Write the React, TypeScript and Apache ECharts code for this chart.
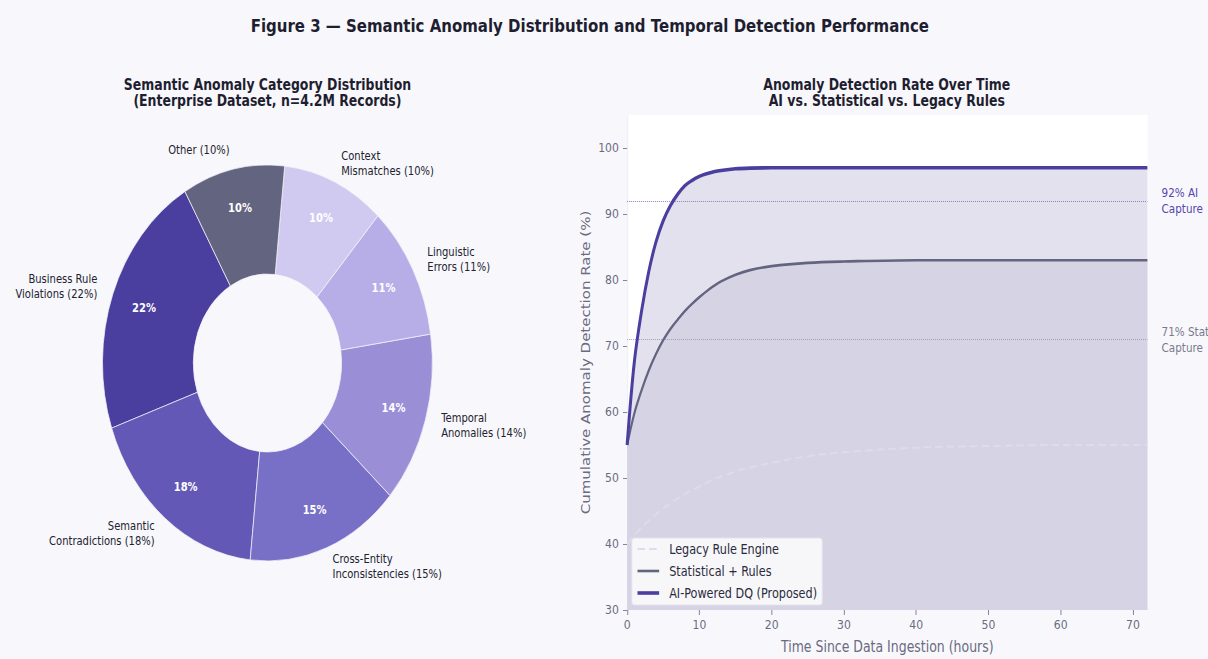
import React, { useEffect, useRef } from "react";
import * as echarts from "echarts";

// Figure is drawn on a wider canvas and compressed horizontally (as in the reference)
const FIG_W = 1208;
const FIG_H = 659;
const S = 1.2;
const CANVAS_W = Math.round(FIG_W * S);

// ---------- Donut data ----------
const pieCategories = [
  "Business Rule\nViolations",
  "Semantic\nContradictions",
  "Cross-Entity\nInconsistencies",
  "Temporal\nAnomalies",
  "Linguistic\nErrors",
  "Context\nMismatches",
  "Other",
];
const pieValues = [22, 18, 15, 14, 11, 10, 10];
const pieColors = ["#4a3e9e", "#6358b6", "#786fc7", "#9a8fd7", "#b7aee8", "#d0caf0", "#636480"];

// ---------- Line data ----------
const hours = [0, 1, 2, 3, 4, 5, 6, 7, 8, 9, 10, 11, 12, 13, 15, 17, 20, 25, 30, 40, 50, 60, 72];
const aiRate = [55, 67.6, 75.3, 81.3, 85.8, 89, 91.3, 93, 94.3, 95.1, 95.7, 96.1, 96.4, 96.6, 96.85, 96.95, 97, 97, 97, 97, 97, 97, 97];
const statRate = [55, 59.8, 63.3, 66.3, 68.8, 70.9, 72.6, 74, 75.3, 76.4, 77.4, 78.3, 79.1, 79.8, 80.8, 81.5, 82.1, 82.6, 82.8, 83, 83, 83, 83];
const legacyRate = [40, 41.3, 42.5, 43.5, 44.5, 45.4, 46.2, 46.9, 47.6, 48.2, 48.7, 49.3, 49.8, 50.2, 51, 51.6, 52.3, 53.3, 53.9, 54.6, 54.85, 55, 55];
const xTicks = [0, 10, 20, 30, 40, 50, 60, 70];
const yTicks = [30, 40, 50, 60, 70, 80, 90, 100];
const aiThreshold = 92;
const statThreshold = 71;

const FONT = "DejaVu Sans";

export default function App() {
  const ref = useRef<HTMLDivElement>(null);

  useEffect(() => {
    if (!ref.current) return;
    const chart = echarts.init(ref.current, null, { renderer: "svg" });
    const pair = (ys: number[]) => hours.map((h, i) => [h, ys[i]]);

    const cx = 267.5 * S;
    const cy = 363;
    const rOuter = 198;
    const rInner = 89;

    const pieData = pieCategories.map((n, i) => ({
      name: n,
      value: pieValues[i],
      itemStyle: { color: pieColors[i] },
    }));

    const SMOOTH = 0.35;

    const option: any = {
      animation: false,
      backgroundColor: "#f8f8fc",
      textStyle: { fontFamily: FONT },
      title: [
        {
          text: "Figure 3 — Semantic Anomaly Distribution and Temporal Detection Performance",
          left: 590 * S,
          top: 16,
          padding: 0,
          textAlign: "center",
          textStyle: { fontFamily: FONT, fontSize: 18, fontWeight: "bold", color: "#1e1e30", lineHeight: 20 },
        },
        {
          text: "Semantic Anomaly Category Distribution\n(Enterprise Dataset, n=4.2M Records)",
          left: 267.5 * S,
          top: 77,
          padding: 0,
          textAlign: "center",
          textStyle: { fontFamily: FONT, fontSize: 15, fontWeight: "bold", color: "#1e1e30", lineHeight: 16 },
        },
        {
          text: "Anomaly Detection Rate Over Time\nAI vs. Statistical vs. Legacy Rules",
          left: 887 * S,
          top: 77,
          padding: 0,
          textAlign: "center",
          textStyle: { fontFamily: FONT, fontSize: 15, fontWeight: "bold", color: "#1e1e30", lineHeight: 16 },
        },
      ],
      legend: {
        orient: "vertical",
        left: 632 * S,
        top: 538,
        padding: [4, 6, 5, 5],
        itemGap: 8,
        itemWidth: 26,
        itemHeight: 14,
        backgroundColor: "rgba(250,250,252,0.92)",
        borderColor: "#e2e2ea",
        borderWidth: 1,
        borderRadius: 3,
        itemStyle: { opacity: 0 },
        lineStyle: { width: "inherit" },
        data: ["Legacy Rule Engine", "Statistical + Rules", "AI-Powered DQ (Proposed)"],
        textStyle: { fontFamily: FONT, fontSize: 13.5, color: "#2a2a3a", padding: [0, 0, 0, 7] },
      },
      grid: {
        left: 627.3 * S,
        right: CANVAS_W - 1147.7 * S,
        top: 115,
        bottom: 49,
        show: true,
        backgroundColor: "#ffffff",
        borderWidth: 0,
      },
      xAxis: {
        type: "value",
        min: 0,
        max: 72,
        interval: 10,
        name: "Time Since Data Ingestion (hours)",
        nameLocation: "middle",
        nameGap: 29,
        nameTextStyle: { fontFamily: FONT, fontSize: 15, color: "#6a6a80" },
        axisLine: { show: false },
        axisTick: { show: true, length: 5, lineStyle: { color: "#7a7a8c" }, customValues: xTicks },
        axisLabel: { fontFamily: FONT, fontSize: 13, color: "#6a6a80", margin: 8, customValues: xTicks },
        splitLine: { show: false },
      },
      yAxis: {
        type: "value",
        min: 30,
        max: 105,
        interval: 10,
        name: "Cumulative Anomaly Detection Rate (%)",
        nameLocation: "middle",
        nameGap: 43,
        nameTextStyle: { fontFamily: FONT, fontSize: 15, color: "#6a6a80" },
        axisLine: { show: true, lineStyle: { color: "#ebe9f4", width: 1 } },
        axisTick: { show: true, length: 5, lineStyle: { color: "#7a7a8c" }, customValues: yTicks },
        axisLabel: { fontFamily: FONT, fontSize: 13, color: "#6a6a80", margin: 10, customValues: yTicks },
        splitLine: { show: false },
      },
      series: [
        {
          type: "pie",
          name: "categories",
          center: [cx, cy],
          radius: [rInner, rOuter],
          startAngle: 120,
          clockwise: false,
          avoidLabelOverlap: false,
          silent: true,
          itemStyle: { borderColor: "#f4f3fa", borderWidth: 0.8 },
          label: {
            show: true,
            position: "outside",
            formatter: (p: any) => `${p.name} (${p.value}%)`,
            fontFamily: FONT,
            fontSize: 12,
            lineHeight: 15,
            color: "#22222e",
            distanceToLabelLine: 0,
          },
          labelLine: { show: false, length: rOuter * 0.1, length2: 0 },
          data: pieData,
        },
        {
          type: "pie",
          name: "pct",
          center: [cx, cy],
          radius: [112, rOuter],
          startAngle: 120,
          clockwise: false,
          avoidLabelOverlap: false,
          silent: true,
          itemStyle: { color: "rgba(0,0,0,0)" },
          label: {
            show: true,
            position: "inside",
            formatter: (p: any) => `${p.value}%`,
            fontFamily: FONT,
            fontSize: 12,
            fontWeight: "bold",
            color: "#ffffff",
          },
          labelLine: { show: false },
          data: pieValues.map((v, i) => ({ name: "p" + i, value: v })),
        },
        {
          type: "line",
          name: "ai-fill",
          data: pair(aiRate),
          smooth: SMOOTH,
          symbol: "none",
          silent: true,
          lineStyle: { width: 0, opacity: 0 },
          areaStyle: { color: "#e4e1ef", opacity: 1, origin: "start" },
        },
        {
          type: "line",
          name: "stat-fill",
          data: pair(statRate),
          smooth: SMOOTH,
          symbol: "none",
          silent: true,
          lineStyle: { width: 0, opacity: 0 },
          areaStyle: { color: "#d6d3e4", opacity: 1, origin: "start" },
        },
        {
          type: "line",
          name: "Legacy Rule Engine",
          data: pair(legacyRate),
          smooth: SMOOTH,
          symbol: "none",
          z: 4,
          itemStyle: { color: "#dddbec" },
          lineStyle: { color: "#dddbec", width: 2, type: [9, 5] },
          markLine: {
            silent: true,
            symbol: ["none", "none"],
            data: [
              {
                yAxis: aiThreshold,
                lineStyle: { type: "dotted", color: "#8a80ca", width: 1.2 },
                label: {
                  show: true,
                  position: "end",
                  distance: 17,
                  formatter: "92% AI\nCapture",
                  fontFamily: FONT,
                  fontSize: 12.5,
                  lineHeight: 16,
                  color: "#5447b0",
                },
              },
              {
                yAxis: statThreshold,
                lineStyle: { type: "dotted", color: "#a0a0b2", width: 1.2 },
                label: {
                  show: true,
                  position: "end",
                  distance: 17,
                  formatter: "71% Stat\nCapture",
                  fontFamily: FONT,
                  fontSize: 12.5,
                  lineHeight: 16,
                  color: "#7a7a8e",
                },
              },
            ],
          },
        },
        {
          type: "line",
          name: "Statistical + Rules",
          data: pair(statRate),
          smooth: SMOOTH,
          symbol: "none",
          z: 5,
          itemStyle: { color: "#636480" },
          lineStyle: { color: "#636480", width: 2.6 },
        },
        {
          type: "line",
          name: "AI-Powered DQ (Proposed)",
          data: pair(aiRate),
          smooth: SMOOTH,
          symbol: "none",
          z: 6,
          itemStyle: { color: "#4a3e9e" },
          lineStyle: { color: "#4a3e9e", width: 3.6 },
        },
      ],
    };

    chart.setOption(option);
    return () => chart.dispose();
  }, []);

  return (
    <div
      style={{
        position: "fixed",
        left: 0,
        top: 0,
        width: FIG_W,
        height: FIG_H,
        overflow: "hidden",
        background: "#f8f8fc",
      }}
    >
      <div
        ref={ref}
        style={{
          width: CANVAS_W,
          height: FIG_H,
          transform: `scaleX(${FIG_W / CANVAS_W})`,
          transformOrigin: "0 0",
        }}
      />
    </div>
  );
}
